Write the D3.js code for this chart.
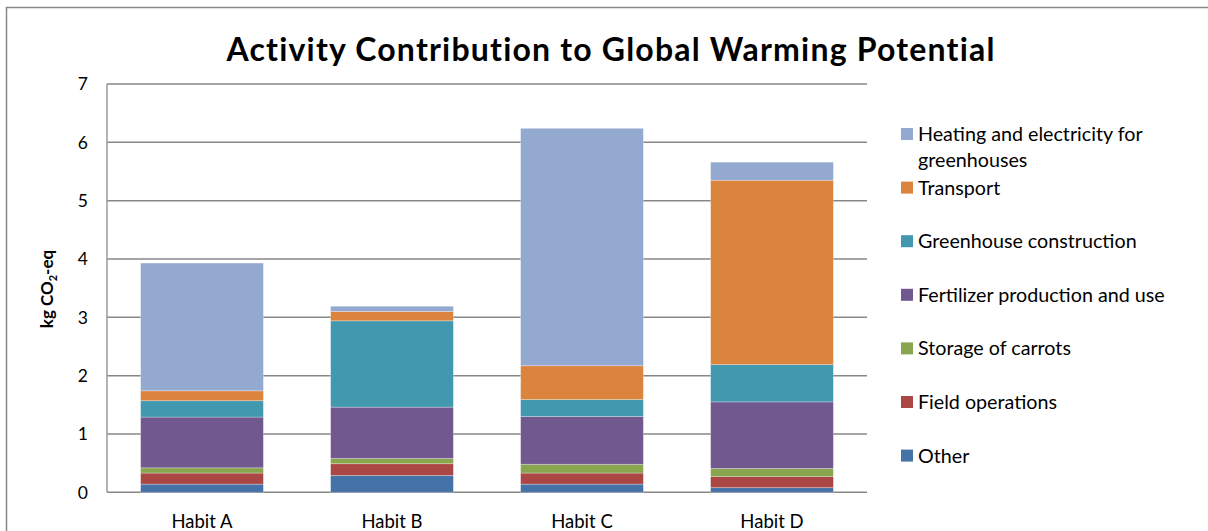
<!DOCTYPE html>
<html>
<head>
<meta charset="utf-8">
<script src="https://cdn.jsdelivr.net/npm/d3@7"></script>
<style>
  html, body { margin: 0; padding: 0; background: #fff; }
  svg { display: block; font-family: Lato, "Open Sans", sans-serif; }
</style>
</head>
<body>
<svg id="chart" width="1208" height="531"></svg>
<script>
// Farming habits compared
const habits = ["Habit A", "Habit B", "Habit C", "Habit D"];

// Activities, bottom of the stack first
const activities = [
  "Other",
  "Field operations",
  "Storage of carrots",
  "Fertilizer production and use",
  "Greenhouse construction",
  "Transport",
  "Heating and electricity for greenhouses"
];

// kg CO2-eq per activity, one value per habit (A, B, C, D)
const other          = [0.14, 0.29, 0.14, 0.08];
const fieldOps       = [0.19, 0.20, 0.19, 0.19];
const storage        = [0.09, 0.09, 0.15, 0.14];
const fertilizer     = [0.87, 0.88, 0.82, 1.14];
const ghConstruction = [0.28, 1.48, 0.29, 0.64];
const transport      = [0.17, 0.16, 0.58, 3.16];
const heating        = [2.19, 0.09, 4.07, 0.31];

const seriesValues = [other, fieldOps, storage, fertilizer, ghConstruction, transport, heating];
const colors = ["#4572A7", "#AA4643", "#89A54E", "#71588F", "#4198AF", "#DB843D", "#93A9CF"];
const yTicks = [0, 1, 2, 3, 4, 5, 6, 7];

// Rows for d3.stack
const rows = habits.map((h, i) => {
  const r = { habit: h };
  activities.forEach((a, k) => { r[a] = seriesValues[k][i]; });
  return r;
});

const svg = d3.select("#chart");
const plot = { left: 107, right: 867, top: 84, bottom: 492.3 };

// Outer chart frame
svg.append("rect")
  .attr("x", 6.5).attr("y", 7.5)
  .attr("width", 1400).attr("height", 700)
  .attr("fill", "#fff")
  .attr("stroke", "#878787").attr("stroke-width", 1.5);

const x = d3.scaleBand()
  .domain(habits)
  .range([plot.left, plot.right])
  .paddingInner(0.354)
  .paddingOuter(0.177);

const y = d3.scaleLinear()
  .domain([0, 7])
  .range([plot.bottom, plot.top]);

// Horizontal gridlines
svg.append("g").selectAll("line")
  .data(yTicks)
  .join("line")
  .attr("x1", plot.left).attr("x2", plot.right)
  .attr("y1", d => y(d)).attr("y2", d => y(d))
  .attr("stroke", "#878787").attr("stroke-width", 1.5);

// Stacked bars
const stacked = d3.stack().keys(activities)(rows);
svg.append("g").selectAll("g")
  .data(stacked)
  .join("g")
  .attr("fill", (d, i) => colors[i])
  .selectAll("rect")
  .data(d => d)
  .join("rect")
  .attr("x", d => x(d.data.habit))
  .attr("width", x.bandwidth())
  .attr("y", d => y(d[1]))
  .attr("height", d => y(d[0]) - y(d[1]))
  .attr("stroke", "rgba(255,255,255,0.35)")
  .attr("stroke-width", 0.8);

// Vertical axis line
svg.append("line")
  .attr("x1", plot.left).attr("x2", plot.left)
  .attr("y1", plot.top).attr("y2", plot.bottom)
  .attr("stroke", "#9a9a9a").attr("stroke-width", 1.5);

// Y tick labels
svg.append("g").selectAll("text")
  .data(yTicks)
  .join("text")
  .attr("x", 88).attr("y", d => y(d))
  .attr("dy", "0.36em")
  .attr("text-anchor", "end")
  .attr("font-size", 17.5)
  .attr("fill", "#000")
  .text(d => d);

// X category labels
svg.append("g").selectAll("text")
  .data(habits)
  .join("text")
  .attr("x", d => x(d) + x.bandwidth() / 2)
  .attr("y", 527.5)
  .attr("text-anchor", "middle")
  .attr("font-size", 18.5)
  .attr("fill", "#000")
  .text(d => d);

// Y axis title with subscript
const yt = svg.append("text")
  .attr("transform", "translate(53,289) rotate(-90)")
  .attr("text-anchor", "middle")
  .attr("font-size", 17)
  .attr("font-weight", "bold")
  .attr("fill", "#000");
yt.append("tspan").text("kg CO");
yt.append("tspan").attr("font-size", 11).attr("dy", 4).text("2");
yt.append("tspan").attr("dy", -4).text("-eq");

// Chart title
svg.append("text")
  .attr("x", 611).attr("y", 61)
  .attr("text-anchor", "middle")
  .attr("font-size", 32)
  .attr("font-weight", "bold")
  .attr("letter-spacing", 1.2)
  .attr("fill", "#000")
  .text("Activity Contribution to Global Warming Potential");

// Legend, top entry is the top of the stack
const legendItems = activities.map((a, i) => ({ name: a, color: colors[i] })).reverse();
const legendLines = {
  "Heating and electricity for greenhouses": ["Heating and electricity for", "greenhouses"]
};
const legend = svg.append("g");
legendItems.forEach((d, i) => {
  const cy = 134 + i * 53.6;
  const g = legend.append("g");
  g.append("rect")
    .attr("x", 901).attr("y", cy - 6)
    .attr("width", 12).attr("height", 12)
    .attr("fill", d.color);
  const lines = legendLines[d.name] || [d.name];
  lines.forEach((ln, j) => {
    g.append("text")
      .attr("x", 918).attr("y", cy + j * 25.5)
      .attr("dy", "0.36em")
      .attr("font-size", 19.7)
      .attr("fill", "#000")
      .text(ln);
  });
});
</script>
</body>
</html>
